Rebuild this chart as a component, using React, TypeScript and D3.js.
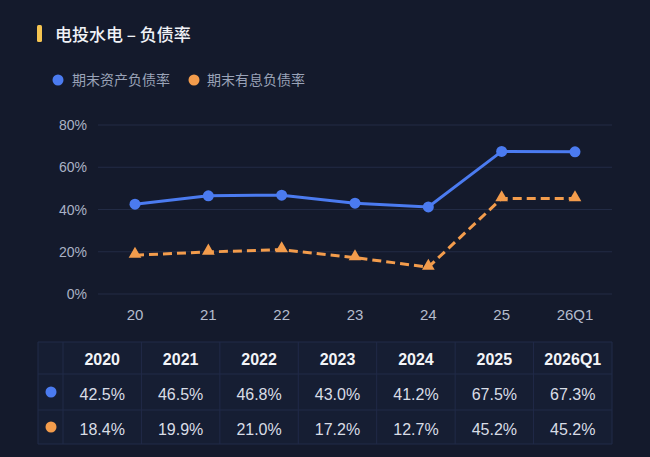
import React, { useEffect } from "react";
import * as d3 from "d3";

const categories = ["20", "21", "22", "23", "24", "25", "26Q1"];
const years = ["2020", "2021", "2022", "2023", "2024", "2025", "2026Q1"];
const assetDebt = [42.5, 46.5, 46.8, 43.0, 41.2, 67.5, 67.3];
const interestDebt = [18.4, 19.9, 21.0, 17.2, 12.7, 45.2, 45.2];
const yTicks = [0, 20, 40, 60, 80];
const seriesNames = ["期末资产负债率", "期末有息负债率"];

const W = 650;
const H = 457;
const BG = "#141a2c";
const BLUE = "#4b7bf0";
const ORANGE = "#f39c4c";
const GRID = "#222b45";
const FONT = "'Liberation Sans', 'Noto Sans CJK SC', sans-serif";
const CJK = "'Noto Sans CJK SC', sans-serif";

export default function App() {
  useEffect(() => {
    document.body.style.margin = "0";
    document.body.style.background = BG;
    document.documentElement.style.background = BG;
  }, []);

  const x = d3.scalePoint<string>().domain(categories).range([135, 575]);
  const y = d3.scaleLinear().domain([0, 80]).range([294, 125]);
  const line = d3
    .line<number>()
    .x((_, i) => x(categories[i])!)
    .y((d) => y(d));

  const tri = d3.symbol().type(d3.symbolTriangle).size(70)();

  const tableLeft = 38;
  const firstColW = 25;
  const tableRight = 612;
  const colW = (tableRight - tableLeft - firstColW) / years.length;
  const rowTops = [342, 374, 410, 444];

  return (
    <div style={{ position: "fixed", left: 0, top: 0, width: W, height: H, background: BG }}>
      <svg width={W} height={H} style={{ display: "block", fontFamily: FONT }}>
        <rect width={W} height={H} fill={BG} />
        {/* title */}
        <rect x={37} y={25} width={5} height={17} rx={1.5} fill="#f5c451" />
        <text x={55} y={41} fill="#f0f2f7" fontSize={17} fontWeight={500} fontFamily={CJK}>
          电投水电 – 负债率
        </text>
        {/* legend */}
        <circle cx={58} cy={80} r={5.5} fill={BLUE} />
        <text x={72} y={85} fill="#9aa3b8" fontSize={14} fontFamily={CJK}>
          {seriesNames[0]}
        </text>
        <circle cx={194} cy={80} r={5.5} fill={ORANGE} />
        <text x={207} y={85} fill="#9aa3b8" fontSize={14} fontFamily={CJK}>
          {seriesNames[1]}
        </text>
        {/* grid + y axis */}
        {yTicks.map((t) => (
          <g key={t}>
            <line x1={98} x2={612} y1={y(t)} y2={y(t)} stroke={GRID} strokeWidth={1} />
            <text x={87} y={y(t) + 5} textAnchor="end" fill="#aab2c5" fontSize={14}>
              {t}%
            </text>
          </g>
        ))}
        {/* x axis labels */}
        {categories.map((c) => (
          <text key={c} x={x(c)!} y={320} textAnchor="middle" fill="#b4bccd" fontSize={15}>
            {c}
          </text>
        ))}
        {/* orange dashed line */}
        <path
          d={line(interestDebt)!}
          fill="none"
          stroke={ORANGE}
          strokeWidth={3}
          strokeDasharray="9,5"
        />
        {interestDebt.map((v, i) => (
          <path
            key={i}
            d={tri!}
            transform={`translate(${x(categories[i])},${y(v) - 1})`}
            fill={ORANGE}
          />
        ))}
        {/* blue line */}
        <path d={line(assetDebt)!} fill="none" stroke={BLUE} strokeWidth={3} />
        {assetDebt.map((v, i) => (
          <circle key={i} cx={x(categories[i])!} cy={y(v)} r={5.5} fill={BLUE} />
        ))}
        {/* table */}
        <rect
          x={tableLeft}
          y={rowTops[0]}
          width={tableRight - tableLeft}
          height={rowTops[3] - rowTops[0]}
          fill="#161e33"
        />
        {rowTops.map((ry, i) => (
          <line key={"h" + i} x1={tableLeft} x2={tableRight} y1={ry} y2={ry} stroke="#212a48" strokeWidth={1} />
        ))}
        {[0, ...years.map((_, i) => i + 1)].map((i) => {
          const xx = i === 0 ? tableLeft : tableLeft + firstColW + (i - 1) * colW;
          return (
            <line key={"v" + i} x1={xx} x2={xx} y1={rowTops[0]} y2={rowTops[3]} stroke="#212a48" strokeWidth={1} />
          );
        })}
        <line x1={tableRight} x2={tableRight} y1={rowTops[0]} y2={rowTops[3]} stroke="#212a48" strokeWidth={1} />
        {years.map((yr, i) => {
          const cx = tableLeft + firstColW + (i + 0.5) * colW;
          return (
            <g key={yr}>
              <text x={cx} y={365} textAnchor="middle" fill="#f2f4f8" fontSize={16} fontWeight={700}>
                {yr}
              </text>
              <text x={cx} y={400} textAnchor="middle" fill="#d9dde6" fontSize={16}>
                {assetDebt[i].toFixed(1)}%
              </text>
              <text x={cx} y={435} textAnchor="middle" fill="#d9dde6" fontSize={16}>
                {interestDebt[i].toFixed(1)}%
              </text>
            </g>
          );
        })}
        <circle cx={51} cy={392} r={5.5} fill={BLUE} />
        <circle cx={51} cy={427} r={5.5} fill={ORANGE} />
      </svg>
    </div>
  );
}
